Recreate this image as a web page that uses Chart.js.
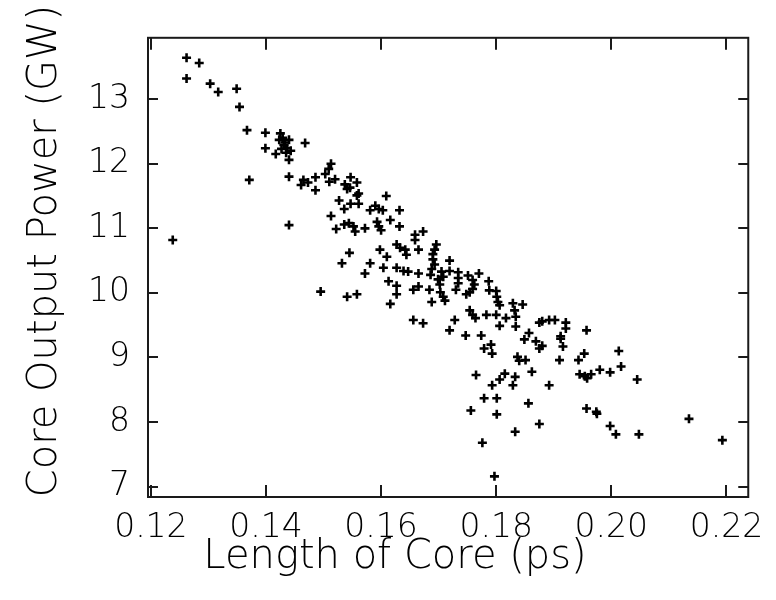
<!DOCTYPE html>
<html>
<head>
<meta charset="utf-8">
<script src="https://cdn.jsdelivr.net/npm/chart.js@4"></script>
<style>
html,body{margin:0;padding:0;background:#fff;}
#c{display:block;}
</style>
</head>
<body>
<canvas id="c" width="776" height="600"></canvas>
<script>
// ---- data ----
const coreLength = [
0.1262,0.1284,0.1262,0.1303,0.1317,0.1349,0.1354,0.1367,0.1399,0.1399,
0.1425,0.1423,0.1440,0.1431,0.1427,0.1437,0.1417,0.1443,0.1440,0.1468,
0.1433,0.1429,0.1435,
0.1371,0.1440,0.1465,0.1461,0.1473,0.1486,0.1486,0.1513,0.1509,0.1503,
0.1520,0.1510,0.1547,0.1537,0.1546,
0.1558,0.1541,0.1561,0.1609,
0.1527,0.1536,0.1440,0.1238,0.1513,0.1522,0.1536,0.1545,0.1532,0.1495,0.1541,
0.1558,0.1547,0.1561,0.1590,0.1581,0.1596,0.1603,0.1632,0.1544,0.1552,
0.1555,0.1572,0.1593,0.1596,0.1600,0.1616,0.1632,0.1659,0.1673,0.1659,
0.1627,0.1633,0.1642,0.1644,0.1665,0.1696,0.1693,0.1690,0.1690,0.1693,
0.1598,0.1610,0.1581,0.1604,0.1572,0.1627,0.1639,0.1647,0.1665,0.1719,
0.1688,0.1705,0.1708,0.1719,0.1734,0.1734,0.1734,0.1686,0.1699,0.1702,
0.1703,0.1708,0.1711,0.1751,0.1759,0.1762,0.1770,0.1754,0.1748,0.1759,
0.1787,0.1788,0.1800,0.1801,0.1803,0.1806,0.1613,0.1627,0.1627,0.1656,
0.1665,0.1684,0.1730,0.1558,0.1616,0.1688,0.1829,0.1846,0.1832,0.1754,
0.1759,0.1764,0.1783,0.1800,0.1817,0.1834,0.1656,0.1673,0.1728,0.1719,
0.1806,0.1834,0.1875,0.1747,0.1774,0.1791,0.1849,0.1857,0.1880,
0.1892,0.1902,0.1880,0.1921,0.1921,0.1912,0.1957,0.1916,
0.1779,0.1793,0.1869,0.1875,0.1837,0.1851,0.1840,0.1862,0.1765,0.1815,
0.1806,0.1833,0.1793,0.1829,0.1779,0.1801,0.1856,0.1756,0.1801,0.1875,
0.1833,0.1776,0.1797,0.1892,
0.1912,0.1910,0.1943,0.1953,0.1945,0.1954,0.1958,0.1965,0.1980,0.1998,
0.2013,0.2017,0.2045,0.1957,0.1974,0.1975,0.1998,0.2008,0.2048,0.2135,0.2193
];
const outputPower = [
13.64,13.56,13.32,13.24,13.11,13.16,12.88,12.52,12.48,12.24,
12.47,12.37,12.37,12.29,12.23,12.24,12.15,12.20,12.06,12.32,
12.33,12.40,12.17,
11.75,11.80,11.75,11.67,11.71,11.79,11.59,12.00,11.92,11.84,
11.76,11.72,11.79,11.68,11.63,
11.71,11.61,11.54,11.50,
11.43,11.30,11.05,10.82,11.19,10.99,11.06,10.62,10.46,10.02,9.94,
11.51,11.38,11.38,11.35,11.28,11.30,11.28,11.28,11.08,11.03,
10.95,11.00,11.10,11.03,10.97,11.13,11.03,10.90,10.95,10.82,
10.75,10.70,10.67,10.59,10.67,10.75,10.67,10.60,10.52,10.44,
10.67,10.56,10.46,10.39,10.30,10.39,10.34,10.33,10.30,10.50,
10.37,10.33,10.25,10.34,10.32,10.23,10.15,10.28,10.21,10.13,
10.01,9.94,9.88,10.27,10.20,10.13,10.30,10.01,9.98,10.06,
10.18,10.04,10.03,9.94,9.86,9.81,10.18,10.11,9.98,10.05,
10.10,10.05,10.05,9.98,9.83,9.86,9.84,9.82,9.73,9.73,
9.66,9.61,9.66,9.66,9.61,9.63,9.58,9.53,9.58,9.42,
9.49,9.48,9.54,9.34,9.34,9.20,9.28,9.38,9.18,
9.58,9.58,9.56,9.54,9.45,9.33,9.42,9.17,
9.14,9.06,9.25,9.14,9.01,8.96,8.95,8.78,8.73,8.75,
8.66,8.70,8.57,8.57,8.37,8.37,8.29,8.18,8.12,7.97,
7.85,7.68,7.16,8.57,
9.29,8.96,8.96,9.06,8.74,8.71,8.68,8.74,8.81,8.77,
9.10,8.86,8.66,8.21,8.16,8.13,7.94,7.81,7.81,8.05,7.72
];
const xTickValues = [0.12,0.14,0.16,0.18,0.20,0.22];
const xTickLabels = ["0.12","0.14","0.16","0.18","0.20","0.22"];
const yTickValues = [7,8,9,10,11,12,13];
const yTickLabels = ["7","8","9","10","11","12","13"];
const xTitle = "Length of Core (ps)";
const yTitle = "Core Output Power (GW)";

const points = coreLength.map((x,i)=>({x:x, y:outputPower[i]}));

const FONT = "'DejaVu Sans', sans-serif";
const WEIGHT = 200;

const framePlugin = {
  id: 'frame',
  afterDraw(chart){
    const ctx = chart.ctx, a = chart.chartArea;
    const xs = chart.scales.x, ys = chart.scales.y;
    ctx.save();
    ctx.strokeStyle = '#1a1a1a';
    ctx.lineWidth = 2;
    ctx.strokeRect(a.left, a.top, a.right-a.left, a.bottom-a.top);
    ctx.beginPath();
    xTickValues.forEach(v=>{
      const px = Math.round(xs.getPixelForValue(v));
      ctx.moveTo(px, a.bottom); ctx.lineTo(px, a.bottom-12);
      ctx.moveTo(px, a.top); ctx.lineTo(px, a.top+12);
    });
    yTickValues.forEach(v=>{
      const py = Math.round(ys.getPixelForValue(v));
      ctx.moveTo(a.left, py); ctx.lineTo(a.left+10, py);
      ctx.moveTo(a.right, py); ctx.lineTo(a.right-10, py);
    });
    ctx.stroke();
    // axis titles
    ctx.fillStyle = '#000';
    ctx.font = WEIGHT + " 40px " + FONT;
    ctx.textAlign = 'center';
    ctx.textBaseline = 'alphabetic';
    ctx.fillText(xTitle, 395, 568);
    ctx.translate(56, 251);
    ctx.rotate(-Math.PI/2);
    ctx.fillText(yTitle, 0, 0);
    ctx.restore();
  }
};

new Chart(document.getElementById('c'), {
  type: 'scatter',
  data: {
    datasets: [{
      data: points,
      pointStyle: 'cross',
      pointRadius: 4.5,
      pointHoverRadius: 4.5,
      borderWidth: 2.6,
      borderColor: '#000',
      backgroundColor: '#000'
    }]
  },
  options: {
    responsive: false,
    animation: false,
    devicePixelRatio: 1,
    layout: { padding: { top: 29, right: 24, left: 0, bottom: 0 } },
    plugins: { legend: { display: false }, tooltip: { enabled: false } },
    scales: {
      x: {
        type: 'linear', position: 'bottom',
        min: 0.1195, max: 0.2238,
        grid: { display: false, drawTicks: false },
        border: { display: false },
        afterFit(s){ s.height = 103; },
        afterBuildTicks(s){ s.ticks = xTickValues.map(v=>({value:v})); },
        ticks: {
          padding: 12,
          color: '#000',
          font: { family: FONT, size: 33, weight: WEIGHT },
          maxRotation: 0, autoSkip: false,
          callback: (v, i) => xTickLabels[i]
        }
      },
      y: {
        type: 'linear', position: 'left',
        min: 6.84, max: 13.95,
        grid: { display: false, drawTicks: false },
        border: { display: false },
        afterFit(s){ s.width = 148; },
        afterBuildTicks(s){ s.ticks = yTickValues.map(v=>({value:v})); },
        ticks: {
          padding: 18,
          color: '#000',
          font: { family: FONT, size: 33, weight: WEIGHT },
          autoSkip: false,
          callback: (v, i) => yTickLabels[i]
        }
      }
    }
  },
  plugins: [framePlugin]
});
</script>
</body>
</html>
